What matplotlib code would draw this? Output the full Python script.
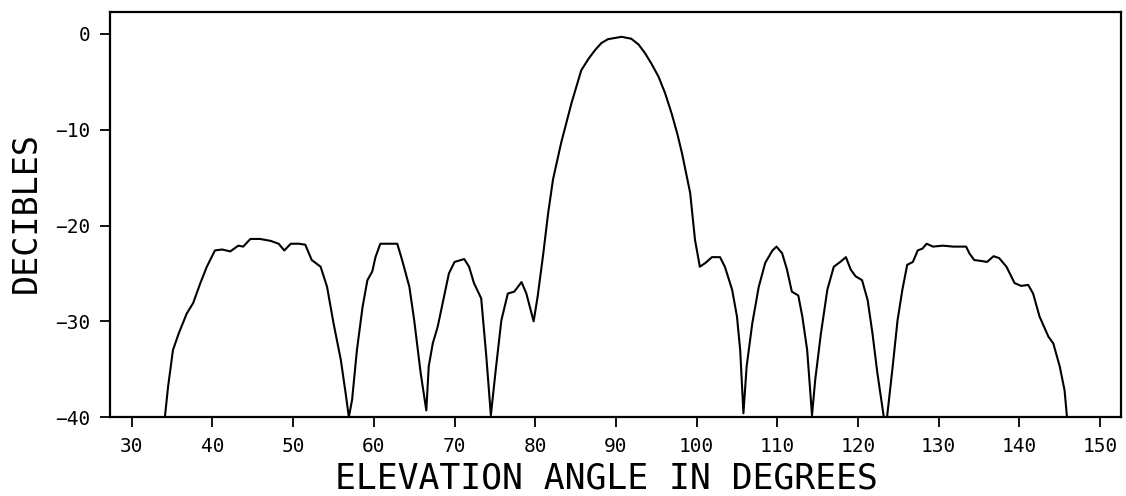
import numpy as np
import matplotlib.pyplot as plt

# elevation pattern (degrees, dB); clipped at -40 dB
angle = [27.0, 34.1, 34.5, 35.1, 35.8, 36.8, 37.6, 38.5, 39.3, 40.3, 41.2, 42.2, 43.2, 43.8,
         44.7, 45.9, 47.2, 48.2, 48.9, 49.7, 50.7, 51.5, 52.3, 53.4, 54.2, 55.0, 55.9, 56.5,
         56.9, 57.3, 57.9, 58.6, 59.2, 59.8, 60.2, 60.8, 62.9, 63.5, 64.4, 65.0, 65.8, 66.3,
         66.5, 66.8, 67.3, 67.9, 68.7, 69.3, 70.0, 71.2, 71.8, 72.4, 73.3, 73.9, 74.5, 75.1,
         75.8, 76.6, 77.4, 78.3, 78.9, 79.8, 80.3, 81.0, 81.6, 82.2, 83.2, 84.5, 85.7, 86.6,
         87.4, 88.2, 89.0, 90.7, 91.9, 92.8, 93.6, 94.4, 95.3, 96.1, 96.9, 97.6, 98.2, 99.2,
         99.8, 100.4, 101.1, 101.9, 102.9,
         103.5, 104.4, 105.0, 105.4, 105.8, 106.2, 106.9, 107.7, 108.5, 109.4, 109.9, 110.6,
         111.2, 111.8, 112.6, 113.1, 113.7, 114.3, 114.7, 115.4, 116.2, 117.0, 117.8, 118.5,
         119.1, 119.7, 120.5, 121.2, 121.8, 122.4, 123.2, 123.6, 124.3, 124.9, 125.5, 126.1,
         126.8, 127.4, 128.0, 128.5, 129.3, 130.5, 131.8, 132.6, 133.4, 133.8, 134.4, 135.3,
         136.0, 136.8, 137.5, 138.4, 139.4, 140.2, 141.1, 141.7, 142.5, 143.6, 144.2, 145.0,
         145.6, 145.9, 153.0]
level = [-40.0, -40.0, -36.8, -33.0, -31.3, -29.2, -28.1, -26.0, -24.3, -22.6, -22.5, -22.7,
         -22.1, -22.2, -21.4, -21.4, -21.6, -21.9, -22.6, -21.9, -21.9, -22.0, -23.6, -24.3,
         -26.4, -30.2, -34.0, -37.5, -40.0, -38.2, -33.0, -28.5, -25.7, -24.8, -23.3, -21.9,
         -21.9, -23.6, -26.4, -29.9, -35.4, -38.2, -39.3, -34.7, -32.3, -30.6, -27.4, -25.0,
         -23.8, -23.5, -24.3, -26.0, -27.6, -33.3, -39.8, -35.1, -29.9, -27.1, -26.9, -25.9,
         -27.1, -30.0, -27.4, -22.9, -18.7, -15.2, -11.4, -7.2, -3.8, -2.6,
         -1.7, -0.95, -0.55, -0.3, -0.5, -1.1, -2.0, -3.1, -4.5, -6.2, -8.3, -10.4, -12.5, -16.6,
         -21.5, -24.3, -23.9, -23.3, -23.3, -24.3, -26.7,
         -29.5, -33.0, -39.6, -34.7, -30.2, -26.4, -23.9, -22.6, -22.2, -22.9, -24.6, -26.9,
         -27.3, -29.5, -33.0, -39.8, -36.1, -31.3, -26.7, -24.3, -23.8, -23.3, -24.6, -25.3,
         -25.7, -27.8, -31.3, -35.4, -40.0, -40.0, -34.7, -29.9, -26.7, -24.1, -23.8, -22.6,
         -22.4, -21.9, -22.2, -22.1, -22.2, -22.2, -22.2, -22.9, -23.6, -23.7, -23.8, -23.2,
         -23.4, -24.3, -26.0, -26.3, -26.2, -27.1, -29.5, -31.6, -32.3, -34.7, -37.2, -40.0,
         -40.0]

xticks = [30, 40, 50, 60, 70, 80, 90, 100, 110, 120, 130, 140, 150]
yticks = [0, -10, -20, -30, -40]

plt.rcParams['font.family'] = 'DejaVu Sans Mono'

fig = plt.figure(figsize=(11.26, 4.96), dpi=100)
ax = fig.add_axes([0.0977, 0.159, 0.8979, 0.817])

ax.plot(angle, level, color='black', linewidth=1.5)

ax.set_xlim(27.3, 152.6)
ax.set_ylim(-40, 2.3)
ax.set_xticks(xticks)
ax.set_yticks(yticks)
ax.tick_params(direction='out', length=7, width=1.3, labelsize=14, pad=7, color='black')

for s in ax.spines.values():
    s.set_linewidth(1.6)

ax.set_xlabel('ELEVATION ANGLE IN DEGREES', fontsize=25, va='center')
ax.xaxis.set_label_coords(0.491, -0.151)
ax.set_ylabel('DECIBLES', fontsize=24, va='center', ha='center')
ax.yaxis.set_label_coords(-0.083, 0.505)

plt.savefig('out.png', dpi=100)
